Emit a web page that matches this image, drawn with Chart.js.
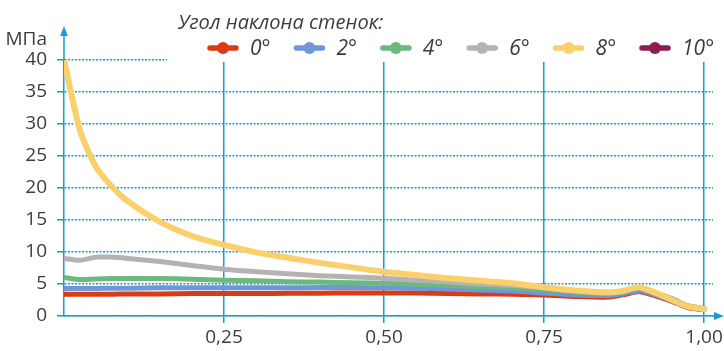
<!DOCTYPE html>
<html><head><meta charset="utf-8">
<script src="https://cdn.jsdelivr.net/npm/chart.js@4"></script>
<style>html,body{margin:0;padding:0;background:#fff}#wrap{width:724px;height:351px;position:relative}</style>
</head><body><div id="wrap"><canvas id="c" width="724" height="351"></canvas></div>
<script>
const legendTitle = 'Угол наклона стенок:';
const unitLabel = 'МПа';
const seriesLabels = ['0°', '2°', '4°', '6°', '8°', '10°'];
const xPositions = [0, 0.025, 0.05, 0.075, 0.1, 0.15, 0.2, 0.25, 0.3, 0.35, 0.4, 0.45, 0.5, 0.55, 0.6, 0.65, 0.7, 0.75, 0.8, 0.85, 0.875, 0.9, 0.95, 0.975, 1.0];
const xTickValues = [0.25, 0.5, 0.75, 1.0];
const yTickValues = [0, 5, 10, 15, 20, 25, 30, 35, 40];
const angle0 = [3.4, 3.4, 3.4, 3.4, 3.45, 3.45, 3.5, 3.5, 3.5, 3.55, 3.55, 3.6, 3.6, 3.6, 3.5, 3.45, 3.4, 3.3, 3.05, 2.95, 3.35, 3.8, 2.3, 1.3, 1.0];
const angle2 = [4.3, 4.3, 4.3, 4.35, 4.35, 4.4, 4.4, 4.4, 4.4, 4.4, 4.45, 4.45, 4.4, 4.35, 4.2, 4.05, 3.9, 3.6, 3.3, 3.2, 3.5, 3.95, 2.4, 1.4, 1.05];
const angle4 = [6.0, 5.7, 5.8, 5.85, 5.85, 5.85, 5.75, 5.6, 5.5, 5.35, 5.3, 5.2, 5.1, 4.95, 4.8, 4.6, 4.4, 4.1, 3.7, 3.5, 3.8, 4.3, 2.7, 1.6, 1.2];
const angle6 = [9.0, 8.7, 9.2, 9.2, 9.0, 8.5, 7.9, 7.3, 6.9, 6.6, 6.3, 6.1, 5.9, 5.6, 5.3, 5.0, 4.8, 4.4, 3.9, 3.6, 3.9, 4.4, 2.6, 1.5, 1.1];
const angle8 = [40, 29, 23.3, 20.2, 17.9, 14.7, 12.5, 11.1, 9.95, 9.1, 8.3, 7.6, 6.9, 6.4, 5.9, 5.5, 5.1, 4.5, 4.0, 3.7, 3.95, 4.5, 2.5, 1.5, 1.1];
const angle10 = [3.4, 3.4, 3.4, 3.4, 3.45, 3.45, 3.5, 3.5, 3.5, 3.55, 3.55, 3.6, 3.6, 3.6, 3.5, 3.45, 3.4, 3.3, 3.05, 2.95, 3.35, 3.8, 2.3, 1.3, 1.0];
const seriesValues = [angle0, angle2, angle4, angle6, angle8, angle10];
const seriesColors = ['#dc3a12', '#6f96d8', '#6cb97f', '#b5b3b1', '#fbcf6a', '#8b1d52'];
const drawOrder = [5, 4, 3, 2, 1, 6];
const lineWidths = [5, 5, 5, 5, 6, 3];

const AXIS = '#1a9bd7';
const TEXT = '#3c3c3b';

const datasets = seriesLabels.map((lab, i) => ({
  label: lab,
  data: xPositions.map((x, j) => ({x: x, y: seriesValues[i][j]})),
  borderColor: seriesColors[i],
  backgroundColor: seriesColors[i],
  borderWidth: lineWidths[i],
  pointRadius: 0,
  tension: 0.25,
  borderCapStyle: 'round',
  borderJoinStyle: 'round',
  order: drawOrder[i],
  fill: false
}));

const deco = {
  id: 'deco',
  beforeDatasetsDraw(chart) {
    const ctx = chart.ctx;
    ctx.save();
    ctx.fillStyle = '#fff';
    ctx.fillRect(167, 0, chart.width - 167, 62);
    ctx.restore();
  },
  afterDraw(chart) {
    const ctx = chart.ctx, a = chart.chartArea;
    const x0 = chart.scales.x.getPixelForValue(0);
    const y0 = chart.scales.y.getPixelForValue(0);
    ctx.save();
    ctx.strokeStyle = AXIS; ctx.fillStyle = AXIS; ctx.lineWidth = 1.5;
    ctx.beginPath(); ctx.moveTo(x0, a.top); ctx.lineTo(x0, 34); ctx.stroke();
    ctx.beginPath(); ctx.moveTo(x0, 26); ctx.lineTo(x0 - 3.8, 36); ctx.lineTo(x0 + 3.8, 36); ctx.closePath(); ctx.fill();
    ctx.beginPath(); ctx.moveTo(a.right, y0); ctx.lineTo(716, y0); ctx.stroke();
    ctx.beginPath(); ctx.moveTo(724, y0); ctx.lineTo(714, y0 - 4); ctx.lineTo(714, y0 + 4); ctx.closePath(); ctx.fill();

    ctx.fillStyle = TEXT;
    ctx.font = '19px "Open Sans"';
    ctx.textAlign = 'right'; ctx.textBaseline = 'alphabetic';
    ctx.fillText(unitLabel, 47, 45);

    ctx.font = 'italic 20px "Open Sans"';
    ctx.textAlign = 'left';
    ctx.fillText(legendTitle, 178, 29);

    chart.data.datasets.forEach((ds, i) => {
      const sx = 207 + i * 86.4, cy = 48;
      ctx.strokeStyle = ds.borderColor; ctx.fillStyle = ds.borderColor;
      ctx.lineWidth = 5.5; ctx.lineCap = 'round';
      ctx.beginPath(); ctx.moveTo(sx + 3, cy); ctx.lineTo(sx + 29, cy); ctx.stroke();
      ctx.beginPath(); ctx.arc(sx + 16, cy, 6, 0, Math.PI * 2); ctx.fill();
      ctx.fillStyle = TEXT;
      ctx.font = 'italic 21px "Open Sans"';
      ctx.fillText(ds.label, sx + 43, cy + 7);
    });
    ctx.restore();
  }
};

new Chart(document.getElementById('c'), {
  type: 'line',
  data: {datasets: datasets},
  plugins: [deco],
  options: {
    responsive: false,
    animation: false,
    layout: {padding: {top: 60, right: 11, left: 0, bottom: 0}},
    plugins: {legend: {display: false}, tooltip: {enabled: false}},
    scales: {
      x: {
        type: 'linear', min: 0, max: 1.014,
        afterBuildTicks: s => { s.ticks = xTickValues.map(v => ({value: v})); },
        afterFit: s => { s.height = 35; s.paddingLeft = 0; s.paddingRight = 0; },
        grid: {color: AXIS, lineWidth: 1.5, tickLength: 7, tickColor: AXIS},
        border: {color: AXIS, width: 1.5},
        ticks: {font: {family: 'Open Sans', size: 19}, color: TEXT, padding: 3, maxRotation: 0, autoSkip: false,
          callback: v => v.toFixed(2).replace('.', ',')}
      },
      y: {
        min: 0, max: 40,
        afterBuildTicks: s => { s.ticks = yTickValues.map(v => ({value: v})); },
        afterFit: s => { s.width = 64; },
        grid: {color: AXIS, lineWidth: 1.5, tickLength: 7, tickColor: AXIS, tickBorderDash: []},
        border: {color: AXIS, width: 1.5, dash: [2, 1.5]},
        ticks: {font: {family: 'Open Sans', size: 19}, color: TEXT, padding: 10, callback: v => String(v)}
      }
    }
  }
});
</script>
</body></html>
